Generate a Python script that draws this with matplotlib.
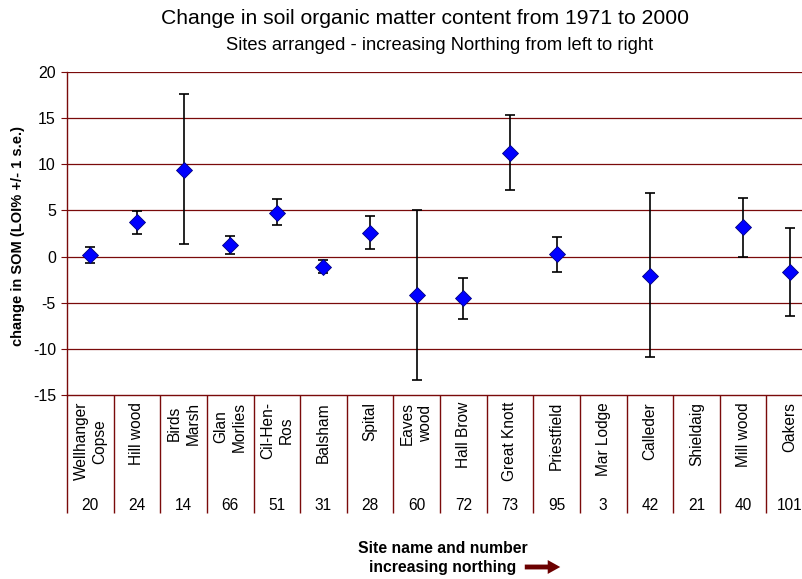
import numpy as np
import matplotlib
matplotlib.use("Agg")
import matplotlib.pyplot as plt

plt.rcParams["font.family"] = ["Liberation Sans", "DejaVu Sans"]
plt.rcParams["axes.unicode_minus"] = False

# site names (rotated labels) and site numbers, ordered by increasing northing
sites = ["Wellhanger\nCopse", "Hill wood", "Birds\nMarsh", "Glan\nMorlies", "Cil-Hen-\nRos",
         "Balsham", "Spital", "Eaves\nwood", "Hall Brow", "Great Knott", "Priestfield",
         "Mar Lodge", "Calleder", "Shieldaig", "Mill wood", "Oakers"]
site_no = ["20", "24", "14", "66", "51", "31", "28", "60", "72", "73", "95", "3", "42", "21", "40", "101"]

# change in SOM and the upper / lower ends of the +/- 1 s.e. bars
som = [0.2, 3.7, 9.4, 1.3, 4.7, -1.1, 2.6, -4.2, -4.5, 11.2, 0.3, np.nan, -2.1, np.nan, 3.2, -1.7]
se_top = [1.0, 4.9, 17.6, 2.2, 6.2, -0.4, 4.4, 5.0, -2.35, 15.3, 2.1, np.nan, 6.9, np.nan, 6.4, 3.1]
se_bot = [-0.7, 2.5, 1.4, 0.3, 3.4, -1.8, 0.8, -13.4, -6.75, 7.25, -1.7, np.nan, -10.9, np.nan, -0.1, -6.4]

som = np.array(som)
err = np.vstack([som - np.array(se_bot), np.array(se_top) - som])
x = np.arange(len(sites))

W, H = 802, 579
fig = plt.figure(figsize=(W / 100, H / 100), dpi=100)
red = "#7a0a0a"

# plot area (runs a little past the right edge, like the original)
ax = fig.add_axes([67 / W, 184 / H, 746 / W, 323 / H])

ax.errorbar(x, som, yerr=err, fmt="none", ecolor="black", elinewidth=1.2,
            capsize=3.3, capthick=1.2, zorder=3)
ax.plot(x, som, linestyle="none", marker="D", markersize=8.5,
        markerfacecolor="#0000ff", markeredgecolor="#000080", markeredgewidth=0.6, zorder=4)

ax.set_xlim(-0.5, len(sites) - 0.5)
ax.set_ylim(-15, 20)
ax.set_yticks(np.arange(-15, 21, 5))
for yv in np.arange(-10, 21, 5):
    ax.axhline(yv, color=red, linewidth=0.9, zorder=1)

for s in ["top", "right"]:
    ax.spines[s].set_visible(False)
ax.spines["left"].set_color(red)
ax.spines["bottom"].set_color(red)
ax.spines["left"].set_linewidth(1.0)
ax.spines["bottom"].set_linewidth(1.0)

ax.tick_params(axis="y", direction="out", length=4, color=red, labelsize=11.5, pad=4)

# category separators run down through the label table
ax.set_xticks(np.arange(-0.5, len(sites) + 0.5, 1.0), minor=True)
ax.set_xticks([])
ax.tick_params(axis="x", which="minor", direction="out", length=85, color=red, width=1.0)

tr = ax.get_xaxis_transform()
for i in range(len(sites)):
    ax.text(x[i], -7 / 323, sites[i], transform=tr, rotation=90, ha="center", va="top",
            multialignment="center", fontsize=11.2, linespacing=1.3)
    ax.text(x[i], -111 / 323, site_no[i], transform=tr, ha="center", va="center", fontsize=11.2)

fig.text(18 / W, 1 - 236 / H, "change in SOM (LOI% +/- 1 s.e.)", rotation=90,
         ha="center", va="center", fontsize=10.5, fontweight="bold")

fig.text(425 / W, 1 - 18 / H, "Change in soil organic matter content from 1971 to 2000",
         ha="center", va="center", fontsize=15.2)
fig.text(440 / W, 1 - 45 / H, "Sites arranged - increasing Northing from left to right",
         ha="center", va="center", fontsize=13.2)

fig.text(443 / W, 1 - 558 / H, "Site name and number\nincreasing northing", ha="center",
         va="center", fontsize=11.3, fontweight="bold", linespacing=1.3)
ax.annotate("", xy=(563, H - 567), xytext=(522, H - 567), xycoords="figure pixels",
            textcoords="figure pixels",
            arrowprops=dict(arrowstyle="simple,head_length=0.9,head_width=1.0,tail_width=0.35",
                            color="#6b0000", lw=0))

fig.savefig("out.png", dpi=100)
